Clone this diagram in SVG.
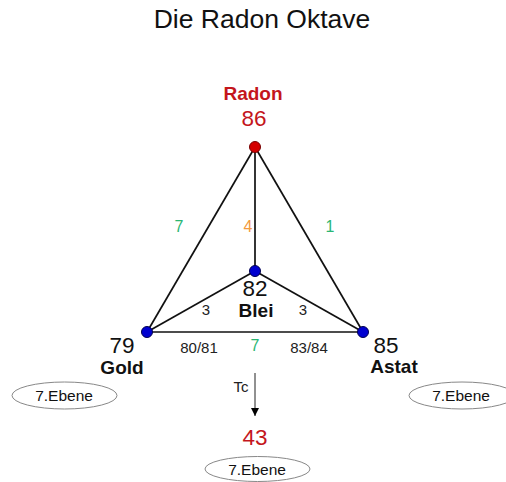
<svg xmlns="http://www.w3.org/2000/svg" width="506" height="482" viewBox="0 0 506 482">
<defs>
<style>
text{font-family:"Liberation Sans",Arial,sans-serif;text-anchor:middle}
.edge{stroke:#111;stroke-width:1.7;fill:none}
.num{font-size:22.5px;fill:#111}
.name{font-size:19px;font-weight:bold;fill:#111}
.red{fill:#c4161c}
.lbl{font-size:15px;fill:#222}
.grn{font-size:16px;fill:#2bb673}
.org{font-size:16px;fill:#f39a3d}
.ell{fill:#fff;stroke:#888;stroke-width:1}
.eb{font-size:15.5px;fill:#111}
</style>
<marker id="ah" markerWidth="10" markerHeight="10" refX="8" refY="5" orient="auto" markerUnits="userSpaceOnUse">
<path d="M0,1 L8,5 L0,9 Z" fill="#000"/>
</marker>
</defs>
<rect width="506" height="482" fill="#fff"/>
<text x="262" y="28" font-size="26.5" fill="#111">Die Radon Oktave</text>
<g id="connectors">
<line class="edge" x1="255" y1="147" x2="147" y2="332"/>
<line class="edge" x1="255" y1="147" x2="363" y2="332"/>
<line class="edge" x1="255" y1="147" x2="255" y2="271"/>
<line class="edge" x1="255" y1="271" x2="147" y2="332"/>
<line class="edge" x1="255" y1="271" x2="363" y2="332"/>
<line class="edge" x1="147" y1="332" x2="363" y2="332"/>
<line x1="255" y1="373" x2="255" y2="416" stroke="#222" stroke-width="1" marker-end="url(#ah)"/>
<text class="grn" x="179" y="232">7</text>
<text class="org" x="248" y="232">4</text>
<text class="grn" x="330" y="232">1</text>
<text class="lbl" x="206" y="315">3</text>
<text class="lbl" x="303" y="315">3</text>
<text class="lbl" x="199" y="353">80/81</text>
<text class="grn" x="255" y="351">7</text>
<text class="lbl" x="309" y="353">83/84</text>
<text class="lbl" x="241" y="392">Tc</text>
</g>
<g id="radon">
<text class="name red" x="253" y="100">Radon</text>
<text class="num red" x="254" y="126">86</text>
<circle cx="255" cy="147" r="5.5" fill="#d40000" stroke="#700" stroke-width="1"/>
</g>
<g id="blei">
<circle cx="255" cy="271" r="5.5" fill="#0000d0" stroke="#000050" stroke-width="1"/>
<text class="num" x="255" y="296" font-size="22">82</text>
<text class="name" x="256" y="317" font-size="18">Blei</text>
</g>
<g id="gold">
<circle cx="147" cy="332" r="5.5" fill="#0000d0" stroke="#000050" stroke-width="1"/>
<text class="num" x="122" y="353">79</text>
<text class="name" x="122" y="374">Gold</text>
</g>
<g id="astat">
<circle cx="363" cy="332" r="5.5" fill="#0000d0" stroke="#000050" stroke-width="1"/>
<text class="num" x="386" y="353">85</text>
<text class="name" x="394" y="373">Astat</text>
</g>
<g id="ebene-left">
<ellipse class="ell" cx="64.5" cy="395.5" rx="52.5" ry="13.5"/>
<text class="eb" x="64" y="400.5">7.Ebene</text>
</g>
<g id="ebene-right">
<ellipse class="ell" cx="462" cy="395.5" rx="53" ry="13.5"/>
<text class="eb" x="461" y="400.5">7.Ebene</text>
</g>
<g id="tc">
<text class="num red" x="255" y="445" font-size="20.5">43</text>
<ellipse class="ell" cx="257.5" cy="469" rx="52.5" ry="12.5"/>
<text class="eb" x="257" y="475">7.Ebene</text>
</g>
</svg>
